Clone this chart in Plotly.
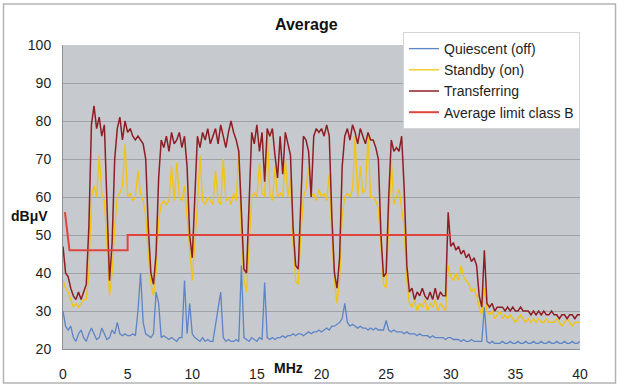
import plotly.graph_objects as go

# ---------------- data ----------------
# frequency grid, MHz (0.0 .. 40.0, 0.2 MHz steps)
freq_mhz = [round(0.2 * i, 1) for i in range(201)]

quiescent_off = [
    30, 26, 25, 26, 23, 22, 24, 25, 23, 22,
    24, 25.5, 24, 22.5, 23, 25.5, 24, 22.5, 23, 25,
    24, 27, 24, 23.5, 24, 23.5, 23.5, 24, 23.5, 30,
    40, 27, 24, 23.5, 23, 24, 35, 32, 23, 23.5,
    23, 22.5, 23, 22.5, 22, 23, 23, 38, 24, 32,
    24, 23, 22.5, 22, 23, 22, 22.5, 22, 22, 26,
    30, 35, 23, 22, 22.5, 22, 22, 22.5, 22, 42,
    23, 22.5, 22, 23, 22.5, 22, 23, 22.5, 37.5, 23,
    22.5, 23, 22.5, 23, 23, 23.5, 23, 23.5, 23.5, 24,
    23.5, 24, 24, 23.5, 24, 24.5, 24, 24.5, 24.5, 25,
    24.5, 25, 25.5, 25, 26, 26, 26.5, 27, 28, 32,
    27, 26, 26.5, 26, 25.5, 26, 25.5, 25.5, 25, 25.5,
    25, 25.5, 25, 25, 25, 27.5, 25, 24.5, 25, 24.5,
    24.5, 24.5, 24, 24.5, 24, 24, 24, 23.5, 24, 23.5,
    23.5, 23.5, 23, 23.5, 23, 23, 23, 23, 22.5, 23,
    23, 22.5, 22.5, 22.5, 22, 22.5, 22, 22, 22.5, 22,
    22, 22, 22, 31, 22, 21.5, 22, 21.5, 21.5, 21.5,
    22, 21.5, 21.5, 22, 21.5, 21.5, 22, 21.5, 21.5, 22,
    21.5, 21.5, 22, 21.5, 21.5, 22, 21.5, 21.5, 22, 21.5,
    21.5, 22, 21.5, 21.5, 22, 21.5, 21.5, 22, 21.5, 21.5,
    22,
]

standby_on = [
    38, 36, 35, 33, 31, 32, 31, 32, 33, 33,
    40, 60, 63, 60, 71, 61, 59, 48, 34, 40,
    52, 60, 61, 63, 74, 60, 61, 59, 60, 67,
    61, 59, 55, 45, 37, 34, 40, 54, 58, 59,
    58, 59, 68, 59, 69, 60, 59, 63, 55, 45,
    38, 48, 58, 71, 59, 58, 60, 59, 58, 67,
    59, 58, 70, 59, 60, 58, 61, 59, 72, 50,
    38, 35, 48, 60, 61, 60, 69, 61, 60, 77,
    61, 59, 68, 60, 61, 60, 70, 60, 65, 48,
    38, 37, 50, 60, 62, 68, 60, 61, 59, 62,
    60, 61, 59, 66, 50, 38, 32, 38, 55, 60,
    61, 60, 62, 76, 60, 68, 61, 62, 76, 60,
    60, 59, 57, 46, 37, 36, 55, 70, 58, 60,
    62, 57, 52, 38, 32, 31, 33, 30, 32, 31,
    33, 30, 32, 31, 33, 30, 32, 31, 30, 42,
    39, 38, 40, 38, 42, 39, 38, 37, 35, 36,
    34, 31, 29, 36, 30, 29, 30, 28, 29, 30,
    28, 29, 28, 29, 28, 27, 28, 29, 28, 27,
    28, 27, 28, 27, 28, 27, 27, 28, 27, 27,
    27, 28, 27, 26, 27, 28, 27, 26, 27, 27,
    27,
]

transferring = [
    47, 40, 39, 36, 34, 33, 35, 33, 35, 37,
    52, 79, 84, 78, 81, 76, 79, 60, 38, 48,
    70, 78, 81, 75, 80, 77, 78, 76, 75, 76,
    75, 74, 70, 52, 40, 37, 45, 65, 75, 73,
    76, 72, 77, 74, 75, 77, 73, 76, 68, 50,
    44, 62, 76, 73, 77, 75, 78, 74, 76, 78,
    74, 79, 76, 73, 77, 80, 77, 75, 72, 54,
    41, 40, 60, 77, 74, 79, 72, 77, 64, 78,
    76, 78, 71, 65, 76, 66, 77, 74, 71, 52,
    42, 41, 58, 76, 75, 72, 60, 76, 78, 77,
    78, 76, 79, 76, 55, 40, 36, 44, 68, 76,
    78, 75, 79, 77, 74, 78, 76, 74, 77, 75,
    75, 73, 70, 50, 39, 40, 60, 75, 72, 73,
    72, 76, 62, 42, 35, 36, 33, 35, 34, 36,
    34, 33, 35, 33, 36, 33, 35, 34, 34, 56,
    47, 48, 46, 47, 45, 46, 44, 45, 43, 44,
    42, 34, 31, 46, 32, 31, 32, 30, 31, 31,
    31, 30, 31, 30, 31, 30, 30, 31, 30, 30,
    30, 29, 30, 29, 30, 29, 30, 29, 29, 30,
    29, 29, 28, 29, 29, 28, 29, 29, 28, 29,
    29,
]

limit_freq_mhz = [0.15, 0.5, 5.0, 5.0, 30.0]
limit_class_b = [56, 46, 46, 50, 50]

y_ticks = [20, 30, 40, 50, 60, 70, 80, 90, 100]
x_ticks = [0, 5, 10, 15, 20, 25, 30, 35, 40]

assert len(quiescent_off) == len(freq_mhz)
assert len(standby_on) == len(freq_mhz)
assert len(transferring) == len(freq_mhz)

# ---------------- figure ----------------
W, H = 620, 390
PL, PR, PT, PB = 63, 580, 45, 349  # plot area in pixels


def px_x(px):
    return (px - PL) / (PR - PL)


def px_y(py):
    return (PB - py) / (PB - PT)


FONT = "Arial, Liberation Sans, sans-serif"

fig = go.Figure()
fig.add_trace(go.Scatter(x=freq_mhz, y=quiescent_off, mode="lines",
                         name="Quiescent (off)",
                         line=dict(color="#5C84C6", width=1.3)))
fig.add_trace(go.Scatter(x=freq_mhz, y=standby_on, mode="lines",
                         name="Standby (on)",
                         line=dict(color="#F2C40F", width=1.3)))
fig.add_trace(go.Scatter(x=freq_mhz, y=transferring, mode="lines",
                         name="Transferring",
                         line=dict(color="#8E1E24", width=1.5)))
fig.add_trace(go.Scatter(x=limit_freq_mhz, y=limit_class_b, mode="lines",
                         name="Average limit class B",
                         line=dict(color="#E0443C", width=2)))

fig.update_layout(
    width=W, height=H,
    margin=dict(l=PL, r=W - PR, t=PT, b=H - PB, pad=0, autoexpand=False),
    paper_bgcolor="white",
    plot_bgcolor="#C6C9CE",
    font=dict(family=FONT, size=14, color="#1E1E1E"),
    showlegend=True,
    legend=dict(
        x=px_x(403), y=px_y(32), xanchor="left", yanchor="top",
        bgcolor="white", bordercolor="#D4D4D4", borderwidth=1,
        font=dict(family=FONT, size=14, color="#1E1E1E"),
        itemwidth=30, tracegroupgap=0,
        entrywidth=200, entrywidthmode="pixels",
    ),
    xaxis=dict(
        range=[0, 40], tickvals=x_ticks, ticktext=[str(v) for v in x_ticks],
        showgrid=False, zeroline=False, showline=True, linecolor="#8C8F94",
        linewidth=1, ticks="", ticklabelstandoff=12, automargin=False,
        tickfont=dict(family=FONT, size=14, color="#1E1E1E"),
    ),
    yaxis=dict(
        range=[20, 100], tickvals=y_ticks, ticktext=[str(v) for v in y_ticks],
        showgrid=True, gridcolor="#9FA2A7", gridwidth=1, zeroline=False,
        showline=True, linecolor="#8C8F94", linewidth=1, ticks="",
        ticklabelstandoff=8, automargin=False,
        tickfont=dict(family=FONT, size=14, color="#1E1E1E"),
    ),
    annotations=[
        dict(text="<b>Average</b>", xref="paper", yref="paper",
             x=px_x(306), y=px_y(24), xanchor="center", yanchor="middle",
             showarrow=False, font=dict(family=FONT, size=16, color="#111")),
        dict(text="<b>dBμV</b>", xref="paper", yref="paper",
             x=px_x(29), y=px_y(216), xanchor="center", yanchor="middle",
             showarrow=False, font=dict(family=FONT, size=14, color="#111")),
        dict(text="<b>MHz</b>", xref="paper", yref="paper",
             x=px_x(288), y=px_y(368), xanchor="center", yanchor="middle",
             showarrow=False, font=dict(family=FONT, size=14, color="#111")),
    ],
    shapes=[
        dict(type="rect", xref="paper", yref="paper", layer="below",
             x0=px_x(3.5), x1=px_x(615.5), y0=px_y(383), y1=px_y(4),
             line=dict(color="#B4B4B4", width=1.5)),
    ],
)

fig.write_html(
    "out.html",
    config={"displayModeBar": False},
    post_script="document.body.style.margin='0';document.body.style.overflow='hidden';",
)
